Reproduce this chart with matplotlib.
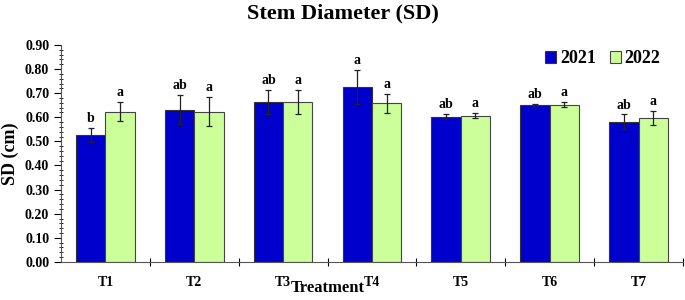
import matplotlib
matplotlib.use('Agg')
import matplotlib.pyplot as plt
from matplotlib.ticker import MultipleLocator
import numpy as np

plt.rcParams['font.family'] = 'Liberation Serif'
plt.rcParams['font.weight'] = 'bold'

treatments = ['T1', 'T2', 'T3', 'T4', 'T5', 'T6', 'T7']
sd_2021 = [0.527, 0.631, 0.663, 0.725, 0.603, 0.650, 0.582]
sd_2022 = [0.624, 0.624, 0.663, 0.658, 0.607, 0.653, 0.596]
err_2021 = [0.030, 0.060, 0.050, 0.070, 0.010, 0.007, 0.030]
err_2022 = [0.040, 0.060, 0.050, 0.040, 0.010, 0.010, 0.030]
let_2021 = ['b', 'ab', 'ab', 'a', 'ab', 'ab', 'ab']
let_2022 = ['a', 'a', 'a', 'a', 'a', 'a', 'a']

fig = plt.figure(figsize=(6.85, 3.0), dpi=100)
ax = fig.add_axes([0.089, 0.127, 0.908, 0.723])

x = np.arange(len(treatments))
w = 0.33
ax.bar(x - w/2, sd_2021, w, color='#0000CC', edgecolor='#333333', linewidth=0.8,
       yerr=err_2021, error_kw=dict(ecolor='#222222', elinewidth=0.9, capsize=2, capthick=0.9),
       label='2021')
ax.bar(x + w/2, sd_2022, w, color='#CCFF99', edgecolor='#444444', linewidth=0.8,
       yerr=err_2022, error_kw=dict(ecolor='#222222', elinewidth=0.9, capsize=2, capthick=0.9),
       label='2022')

for i in range(len(treatments)):
    ax.text(x[i] - w/2, sd_2021[i] + err_2021[i] + 0.012, let_2021[i],
            ha='center', va='bottom', fontsize=10, fontweight='bold')
    ax.text(x[i] + w/2, sd_2022[i] + err_2022[i] + 0.012, let_2022[i],
            ha='center', va='bottom', fontsize=10, fontweight='bold')

ax.set_xlim(-0.5, 6.5)
ax.set_ylim(0, 0.9)
ax.yaxis.set_major_locator(MultipleLocator(0.1))
ax.yaxis.set_minor_locator(MultipleLocator(0.02))
ax.yaxis.set_major_formatter(matplotlib.ticker.FormatStrFormatter('%.2f'))
ax.tick_params(axis='y', which='major', direction='out', length=5, labelsize=10, width=0.8)
ax.tick_params(axis='y', which='minor', direction='inout', length=3, width=0.6)

ax.set_xticks(x + 0.5)
ax.set_xticklabels([])
ax.set_xticks(x, minor=True)
ax.set_xticklabels(treatments, minor=True, fontsize=10, fontweight='bold')
ax.tick_params(axis='x', which='major', direction='inout', length=6, width=0.8)
ax.tick_params(axis='x', which='minor', length=0, pad=10)

for s in ['top', 'right']:
    ax.spines[s].set_visible(False)
for s in ['left', 'bottom']:
    ax.spines[s].set_color('#555555')

ax.set_ylabel('SD (cm)', fontsize=13, fontweight='bold', labelpad=4)
ax.set_xlabel('Treatment', fontsize=12, fontweight='bold')
ax.xaxis.set_label_coords(0.4285, -0.085)
ax.xaxis.label.set_va('top')
fig.suptitle('Stem Diameter (SD)', fontsize=16, fontweight='bold', y=0.99)

ax.legend(loc='upper right', bbox_to_anchor=(0.99, 1.05), ncol=2, frameon=False,
          fontsize=13, handlelength=0.6, handleheight=0.6, handletextpad=0.2,
          columnspacing=0.8)

fig.savefig('out.png', dpi=100)
